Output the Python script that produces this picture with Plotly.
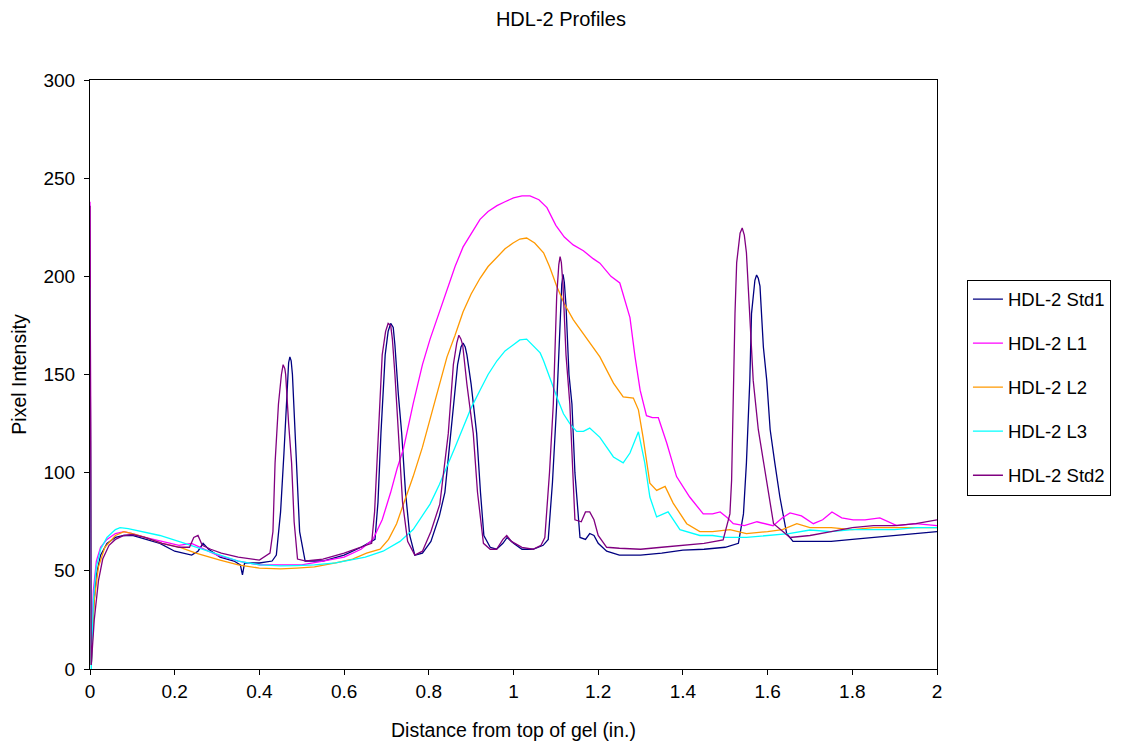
import plotly.graph_objects as go

# ---------------- data ----------------
std1_x = [0, 0.003, 0.008, 0.015, 0.025, 0.04, 0.06, 0.08, 0.1, 0.13, 0.165, 0.2, 0.24, 0.255, 0.267, 0.28,
          0.307, 0.34, 0.355, 0.36, 0.365, 0.4, 0.43, 0.44, 0.45, 0.458, 0.466, 0.469, 0.472, 0.475, 0.478,
          0.486, 0.495, 0.508, 0.55, 0.6, 0.64, 0.673, 0.68, 0.687, 0.697, 0.704, 0.71, 0.716, 0.72, 0.728,
          0.736, 0.745, 0.755, 0.767, 0.785, 0.805, 0.825, 0.838, 0.854, 0.868, 0.876, 0.881, 0.886, 0.89,
          0.9, 0.913, 0.922, 0.93, 0.945, 0.96, 0.975, 0.985, 1.0, 1.02, 1.046, 1.07, 1.082, 1.092, 1.102,
          1.11, 1.114, 1.117, 1.12, 1.124, 1.131, 1.138, 1.145, 1.157, 1.17, 1.18, 1.19, 1.2, 1.22, 1.25,
          1.3, 1.35, 1.4, 1.45, 1.5, 1.531, 1.543, 1.55, 1.558, 1.562, 1.57, 1.574, 1.578, 1.582, 1.59,
          1.598, 1.606, 1.617, 1.629, 1.645, 1.66, 1.7, 1.75, 1.8, 1.85, 1.9, 1.95, 2.0]
std1_y = [194, 2, 30, 48, 58, 64, 67, 68, 68, 66, 64, 60, 58, 60, 64, 61,
          57, 55, 53, 48, 54, 54, 55, 58, 80, 110, 145, 156, 159, 157, 150,
          110, 70, 55, 55, 58, 62, 66, 85, 120, 160, 172, 176, 174, 165, 140,
          120, 90, 68, 58, 59, 65, 78, 90, 125, 155, 164, 166, 164, 160,
          145, 120, 90, 68, 62, 61, 64, 67, 64, 61, 61, 63, 66, 95, 135,
          180, 196, 201, 197, 185, 150, 135, 100, 67, 66, 69, 68, 64, 60, 58,
          58, 59, 60.5, 61, 62, 64, 79, 105, 147, 181, 198, 200.7, 199, 195, 164,
          147, 122, 105, 87.6, 69, 65, 65, 65, 66, 67, 68, 69, 70]

l1_x = [0, 0.003, 0.008, 0.015, 0.025, 0.04, 0.06, 0.08, 0.1, 0.13, 0.17, 0.21, 0.24, 0.27, 0.3, 0.35,
        0.4, 0.45, 0.5, 0.55, 0.6, 0.64, 0.668, 0.69, 0.71, 0.725, 0.74, 0.763, 0.785, 0.803, 0.825, 0.843,
        0.862, 0.881, 0.9, 0.921, 0.94, 0.961, 0.98, 1.0, 1.02, 1.039, 1.06, 1.079, 1.1, 1.12, 1.141, 1.165,
        1.188, 1.204, 1.23, 1.251, 1.275, 1.287, 1.299, 1.314, 1.328, 1.342, 1.362, 1.385, 1.416, 1.448,
        1.47, 1.488, 1.505, 1.519, 1.545, 1.575, 1.613, 1.635, 1.653, 1.68, 1.708, 1.73, 1.752, 1.775,
        1.802, 1.83, 1.865, 1.905, 1.95, 2.0]
l1_y = [238, 10, 40, 55, 62, 66, 69, 70, 69, 67, 65, 63, 64, 61, 58, 55,
        53, 53, 53, 55, 57, 61, 66, 76, 90, 102, 112, 135, 155, 168, 182, 193,
        205, 215, 222, 229, 233, 236, 238, 240, 241, 241, 239, 235, 226, 220, 216, 213,
        209, 206.7, 200, 196.6, 179, 159, 142, 129, 128, 128, 115, 98, 87.6, 79,
        79, 80, 77, 74, 73, 75, 73, 77, 79.5, 78, 74, 76, 80, 77,
        76, 76, 77, 73, 74, 73]

l2_x = [0, 0.003, 0.01, 0.02, 0.035, 0.06, 0.08, 0.1, 0.13, 0.17, 0.213, 0.25, 0.307, 0.35, 0.4, 0.45,
        0.488, 0.53, 0.58, 0.62, 0.653, 0.685, 0.705, 0.724, 0.745, 0.763, 0.785, 0.803, 0.825, 0.843,
        0.862, 0.881, 0.9, 0.921, 0.94, 0.961, 0.98, 0.999, 1.015, 1.031, 1.05, 1.071, 1.085, 1.102, 1.12,
        1.141, 1.165, 1.185, 1.204, 1.236, 1.259, 1.283, 1.295, 1.306, 1.322, 1.338, 1.358, 1.377, 1.409,
        1.44, 1.47, 1.511, 1.55, 1.6, 1.635, 1.669, 1.7, 1.75, 1.8, 1.85, 1.9, 1.95, 2.0]
l2_y = [194, 2, 35, 52, 62, 68, 70, 69, 67, 64, 62, 59, 55.5, 53, 51.4, 51,
        51.4, 52, 54, 56, 59, 61, 66, 74, 87, 98, 113, 127, 145, 159,
        170, 182, 191, 199, 205, 210, 214, 217, 219, 219.5, 217, 212, 205, 195, 186,
        178, 171, 165, 159, 145.6, 138.6, 138, 132, 118, 94.6, 91, 93, 84.5, 74,
        70, 70, 71, 69, 70, 71, 74, 72, 72, 71, 72, 72, 72, 72]

l3_x = [0, 0.003, 0.008, 0.015, 0.025, 0.04, 0.06, 0.071, 0.09, 0.12, 0.165, 0.213, 0.25, 0.307, 0.35,
        0.401, 0.45, 0.488, 0.53, 0.58, 0.614, 0.65, 0.692, 0.732, 0.763, 0.785, 0.803, 0.825, 0.843,
        0.862, 0.881, 0.9, 0.921, 0.94, 0.961, 0.98, 0.999, 1.015, 1.031, 1.05, 1.063, 1.071, 1.086,
        1.094, 1.105, 1.118, 1.133, 1.149, 1.165, 1.18, 1.204, 1.236, 1.259, 1.275, 1.295, 1.31, 1.322,
        1.338, 1.365, 1.393, 1.44, 1.47, 1.5, 1.55, 1.6, 1.65, 1.7, 1.75, 1.8, 1.85, 1.9, 1.95, 2.0]
l3_y = [194, 0, 35, 52, 61, 67, 71, 72, 71.5, 70, 68, 64.7, 62, 58, 55,
        53, 52.5, 52.7, 53, 54, 55.5, 57, 60, 65, 71, 78, 84, 94, 103,
        113, 123, 133, 142, 150, 157, 162, 165, 167.6, 168, 164, 161, 157, 148,
        143.6, 137, 130, 125, 121, 121, 122.7, 118, 108, 105, 110, 120.8, 105, 87.6,
        77.5, 80, 71, 68, 68, 67, 67, 68, 69, 70.8, 70, 71, 71, 71, 72, 72]

std2_x = [0, 0.003, 0.01, 0.02, 0.03, 0.045, 0.06, 0.08, 0.1, 0.13, 0.17, 0.21, 0.235, 0.245, 0.255,
          0.265, 0.285, 0.31, 0.35, 0.4, 0.425, 0.432, 0.437, 0.445, 0.452, 0.456, 0.46, 0.462, 0.469,
          0.476, 0.482, 0.49, 0.51, 0.55, 0.6, 0.64, 0.665, 0.672, 0.681, 0.69, 0.698, 0.704, 0.71, 0.714,
          0.72, 0.728, 0.738, 0.75, 0.767, 0.785, 0.805, 0.826, 0.846, 0.858, 0.866, 0.871, 0.876, 0.88,
          0.89, 0.905, 0.915, 0.929, 0.945, 0.96, 0.975, 0.984, 0.995, 1.02, 1.046, 1.065, 1.074, 1.085,
          1.094, 1.102, 1.107, 1.11, 1.113, 1.117, 1.124, 1.133, 1.14, 1.145, 1.16, 1.17, 1.18, 1.19, 1.2,
          1.22, 1.25, 1.3, 1.35, 1.4, 1.45, 1.495, 1.511, 1.515, 1.519, 1.523, 1.527, 1.535, 1.54, 1.545,
          1.55, 1.558, 1.566, 1.578, 1.598, 1.614, 1.653, 1.7, 1.75, 1.8, 1.85, 1.9, 1.95, 2.0]
std2_y = [236, 2, 25, 45, 56, 63, 66, 68, 68.5, 67, 64, 62, 62, 67, 68,
          63, 61, 59, 57, 55.5, 59, 70, 105, 135, 150, 155, 153, 150, 125,
          105, 75, 56, 55, 56, 59, 62, 64, 80, 120, 160, 172, 176, 175, 168,
          150, 120, 85, 65, 58, 60, 70, 84, 120, 155, 166, 170, 168, 165,
          145, 120, 90, 64, 61, 61, 66, 68, 65, 62, 61, 63, 67, 100,
          135, 190, 206, 210, 207, 195, 160, 135, 95, 76, 75, 80, 80, 76, 68,
          62, 61.5, 61, 62, 63, 64, 65.7, 79, 96, 147, 181, 207, 222, 224.6, 221,
          212, 181, 147, 122, 96, 74, 67, 68, 70, 72, 73, 73, 74, 76]

series_names = ["HDL-2 Std1", "HDL-2 L1", "HDL-2 L2", "HDL-2 L3", "HDL-2 Std2"]
series_x = [std1_x, l1_x, l2_x, l3_x, std2_x]
series_y = [std1_y, l1_y, l2_y, l3_y, std2_y]
series_colors = ["#000080", "#FF00FF", "#FF9900", "#00FFFF", "#800080"]

x_ticks = [0, 0.2, 0.4, 0.6, 0.8, 1, 1.2, 1.4, 1.6, 1.8, 2]
x_tick_labels = ["0", "0.2", "0.4", "0.6", "0.8", "1", "1.2", "1.4", "1.6", "1.8", "2"]
y_ticks = [0, 50, 100, 150, 200, 250, 300]

FONT = "Liberation Sans, Arial, sans-serif"

fig = go.Figure()
for name, xs, ys, col in zip(series_names, series_x, series_y, series_colors):
    fig.add_trace(go.Scatter(x=xs, y=ys, mode="lines", name=name, legendgroup=name,
                             line=dict(color=col, width=1.3)))

# page body has an 8px margin: figure is 1117x738 placed at (8,8)
fig.update_layout(
    width=1117, height=738,
    margin=dict(l=82, r=188, t=72, b=77, autoexpand=False),
    paper_bgcolor="white", plot_bgcolor="white",
    font=dict(family=FONT, size=19, color="black"),
    title=dict(text="HDL-2 Profiles", x=0.495, xanchor="center", y=1 - 11 / 738, yanchor="middle",
               font=dict(family=FONT, size=20, color="black")),
    showlegend=True,
    legend=dict(xref="container", yref="container", x=0.8585, xanchor="left",
                y=1 - (387.5 - 8) / 738, yanchor="middle",
                bordercolor="black", borderwidth=1, bgcolor="white",
                font=dict(family=FONT, size=18.5, color="black"),
                tracegroupgap=17, itemwidth=30),
)
fig.update_xaxes(range=[0, 2], tickvals=x_ticks, ticktext=x_tick_labels,
                 showgrid=False, zeroline=False, showline=True, linecolor="black", linewidth=1,
                 mirror=True, ticks="outside", ticklen=5, tickcolor="black",
                 tickfont=dict(family=FONT, size=19),
                 title=dict(text="Distance from top of gel (in.)", standoff=22,
                            font=dict(family=FONT, size=19.5)))
fig.update_yaxes(range=[0, 300], tickvals=y_ticks,
                 showgrid=False, zeroline=False, showline=True, linecolor="black", linewidth=1,
                 mirror=True, ticks="outside", ticklen=5, tickcolor="black",
                 ticklabelstandoff=5,
                 tickfont=dict(family=FONT, size=19),
                 title=dict(text="Pixel Intensity", standoff=12,
                            font=dict(family=FONT, size=19.5)))

fig.write_html("out.html")
